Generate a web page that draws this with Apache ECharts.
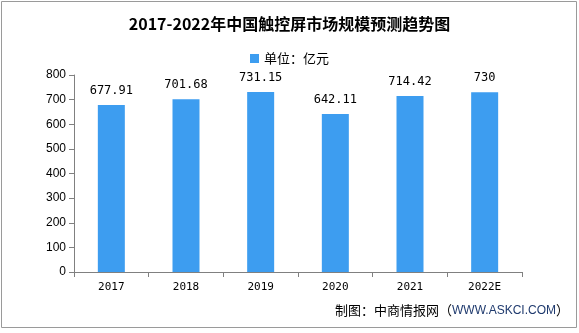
<!DOCTYPE html>
<html><head><meta charset="utf-8">
<script src="https://cdn.jsdelivr.net/npm/echarts@6/dist/echarts.min.js"></script>
<style>html,body{margin:0;padding:0;background:#fff}#c{width:579px;height:333px}</style>
</head><body><div id="c"></div>
<script>
var categories = ['2017','2018','2019','2020','2021','2022E'];
var values = [677.91, 701.68, 731.15, 642.11, 714.42, 730];
var valueLabels = ['677.91','701.68','731.15','642.11','714.42','730'];
var yTicks = {min: 0, max: 800, interval: 100};
var titleText = '2017-2022年中国触控屏市场规模预测趋势图';
var legendText = '单位：亿元';

var chart = echarts.init(document.getElementById('c'));
chart.setOption({
  animation: false,
  backgroundColor: '#fff',
  title: {
    text: titleText, left: 'center', top: 11,
    textStyle: {fontFamily: 'Noto Sans CJK SC', fontWeight: 'bold', fontSize: 16, color: '#000'}
  },
  legend: {
    data: [legendText], top: 47, left: 'center',
    itemWidth: 9, itemHeight: 9, icon: 'rect', itemGap: 4,
    textStyle: {fontFamily: 'Noto Sans CJK SC', fontSize: 13, color: '#000'}
  },
  grid: {left: 74, right: 57, top: 75, bottom: 61, containLabel: false},
  xAxis: {
    type: 'category', data: categories,
    axisLine: {lineStyle: {color: '#808080'}},
    axisTick: {show: true, length: 5, lineStyle: {color: '#808080'}},
    axisLabel: {color: '#000', fontFamily: 'DejaVu Sans Mono, monospace', fontSize: 11, margin: 10}
  },
  yAxis: {
    type: 'value', min: yTicks.min, max: yTicks.max, interval: yTicks.interval,
    axisLine: {show: true, lineStyle: {color: '#808080'}},
    axisTick: {show: true, length: 5, lineStyle: {color: '#808080'}},
    splitLine: {show: false},
    axisLabel: {color: '#000', fontFamily: 'Liberation Sans, Arial', fontSize: 12, margin: 8}
  },
  series: [{
    name: legendText, type: 'bar', data: values, barWidth: 27,
    itemStyle: {color: '#3d9df0'},
    label: {
      show: true, position: 'top', distance: 8, color: '#000',
      fontFamily: 'DejaVu Sans Mono, monospace', fontSize: 12,
      formatter: function (p) { return valueLabels[p.dataIndex]; }
    }
  }],
  graphic: [
    {type: 'rect', shape: {x: 1.5, y: 1.5, width: 575, height: 326}, style: {fill: 'none', stroke: '#9a9a9a', lineWidth: 1}, silent: true},
    {type: 'text', right: 10, top: 304, style: {
      rich: {a: {fontFamily: 'Noto Sans CJK SC', fontSize: 13, fill: '#000'}, b: {fontFamily: 'Liberation Sans, Arial', fontSize: 12, fill: '#1f3a6e'}},
      text: '{a|制图：中商情报网（}{b|WWW.ASKCI.COM}{a|）}'
    }}
  ]
});
</script></body></html>
